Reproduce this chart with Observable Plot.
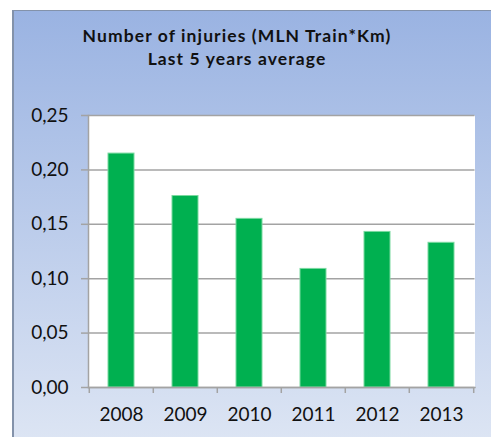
<!DOCTYPE html>
<html><head><meta charset="utf-8">
<script src="https://cdn.jsdelivr.net/npm/d3@7"></script>
<script src="https://cdn.jsdelivr.net/npm/@observablehq/plot@0.6"></script>
<style>
html,body{margin:0;padding:0;background:#fff;}
#wrap{position:relative;width:491px;height:437px;overflow:hidden;font-family:Lato,sans-serif;}
#bg{position:absolute;left:12px;top:10px;width:490px;height:440px;box-sizing:border-box;border-left:2px solid #8392aa;border-top:1px solid #8392aa;background:linear-gradient(#9ab3e2,#dee6f4);}
#title{position:absolute;left:0;top:24px;width:474px;text-align:center;font-weight:bold;font-size:17.5px;letter-spacing:1.1px;line-height:23px;color:#111;}
#chart{position:absolute;left:0;top:0;}
</style></head>
<body>
<div id="wrap"><div id="bg"></div><div id="title">Number of injuries (MLN Train*Km)<br>Last 5 years average</div><div id="chart"></div></div>
<script>
const years = ["2008","2009","2010","2011","2012","2013"];
const values = [0.215, 0.176, 0.155, 0.109, 0.143, 0.133];
const yTicks = [0, 0.05, 0.10, 0.15, 0.20, 0.25];
const data = years.map((y,i)=>({year:y, value:values[i]}));

const W = 491, H = 437, mL = 88, mR = 16.5, mT = 115, mB = 50;
const step = (W - mL - mR) / years.length;
const grid = "#a3a3a3";
const fmt = d => d.toFixed(2).replace(".", ",");

const plot = Plot.plot({
  width: W, height: H,
  marginLeft: mL, marginRight: mR, marginTop: mT, marginBottom: mB,
  style: {background: "transparent", fontFamily: "Lato, sans-serif", fontSize: "19px", overflow: "visible"},
  x: {domain: years, paddingInner: 0.6, paddingOuter: 0.3, label: null},
  y: {domain: [0, 0.25], label: null},
  marks: [
    Plot.frame({fill: "white", stroke: "none"}),
    Plot.gridY(yTicks, {stroke: grid, strokeOpacity: 1, strokeWidth: 1.5}),
    Plot.barY(data, {x: "year", y: "value", fill: "#00b050", stroke: "#7ad9a0", strokeWidth: 1}),
    Plot.frame({anchor: "left", stroke: grid, strokeWidth: 1.5}),
    Plot.frame({anchor: "bottom", stroke: grid, strokeWidth: 1.5}),
    Plot.axisY({ticks: yTicks, tickFormat: fmt, tickSize: 7, tickPadding: 13, stroke: grid, strokeWidth: 1.5, fill: "#111", label: null}),
    Plot.axisX({tickSize: 0, tickPadding: 20, fill: "#111", label: null}),
    Plot.axisX({tickSize: 6, tickFormat: () => "", dx: -step/2, stroke: grid, strokeWidth: 1.5, label: null}),
    Plot.axisX({ticks: [years[years.length-1]], tickSize: 6, tickFormat: () => "", dx: step/2, stroke: grid, strokeWidth: 1.5, label: null})
  ]
});
document.getElementById("chart").appendChild(plot);
</script>
</body></html>
